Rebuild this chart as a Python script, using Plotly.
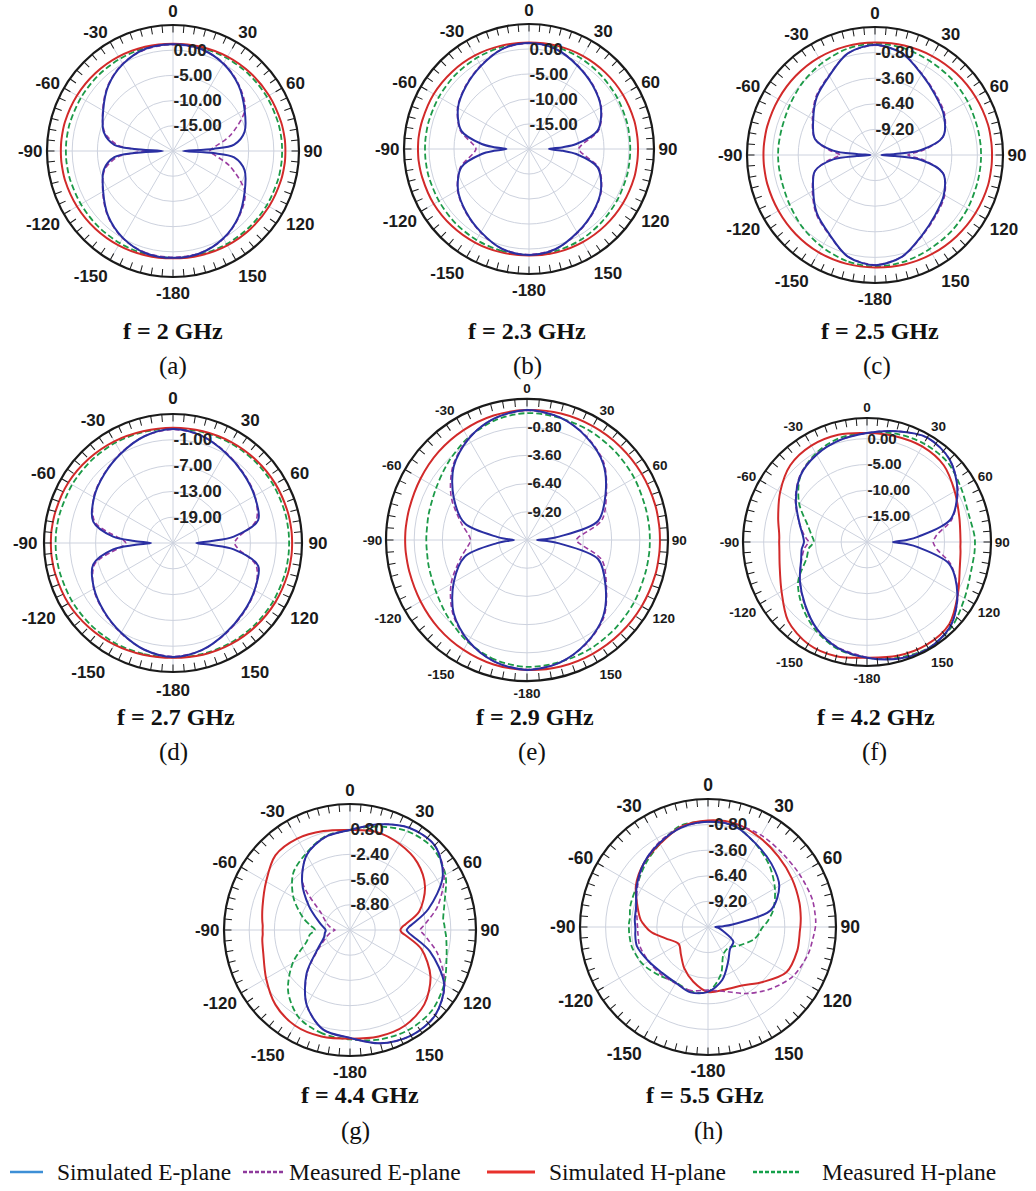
import plotly.graph_objects as go

W, H = 1036, 1191

# Sampling angles (degrees) shared by every pattern cut
THETA = [-180, -165, -150, -135, -120, -105, -96, -93, -90, -87, -84, -75, -60, -45, -30, -15,
         0, 15, 30, 45, 60, 75, 84, 87, 90, 93, 96, 105, 120, 135, 150, 165, 180]

# ---- (a) f = 2 GHz ----
a_sim_e = [1.2, 1.0, -0.1, -1.8, -4.0, -5.8, -8.3, -12.3, -18.0, -12.3, -8.3, -5.8, -4.0, -1.8, -0.1, 1.0,
           1.2, 1.0, 0.0, -1.6, -3.6, -5.3, -7.8, -12.0, -18.0, -12.0, -7.8, -5.3, -3.6, -1.6, 0.0, 1.0, 1.2]
a_meas_e = [1.1, 0.9, 0.0, -1.7, -3.9, -6.0, -9.0, -12.0, -15.0, -12.0, -9.0, -6.0, -3.9, -1.7, 0.0, 0.9,
            1.1, 0.9, 0.1, -1.5, -3.5, -8.3, -11.6, -12.3, -12.7, -12.3, -11.6, -8.3, -3.5, -1.5, 0.1, 0.9, 1.1]
a_sim_h = [1.3, 1.4, 1.6, 1.8, 2.0, 2.2, 2.25, 2.25, 2.25, 2.25, 2.25, 2.2, 2.0, 1.8, 1.6, 1.4,
           1.3, 1.4, 1.6, 1.8, 2.0, 2.2, 2.3, 2.3, 2.3, 2.3, 2.3, 2.2, 2.0, 1.8, 1.6, 1.4, 1.3]
a_meas_h = [1.2, 1.2, 1.1, 1.1, 1.1, 1.2, 1.25, 1.25, 1.25, 1.25, 1.25, 1.2, 1.1, 1.1, 1.1, 1.2,
            1.2, 1.25, 1.3, 1.4, 1.5, 1.6, 1.65, 1.65, 1.65, 1.65, 1.65, 1.6, 1.5, 1.4, 1.3, 1.25, 1.2]

# ---- (b) f = 2.3 GHz ----
b_sim_e = [1.2, 0.7, -0.8, -2.2, -3.6, -6.0, -10.5, -13.0, -15.5, -13.0, -10.5, -6.0, -3.6, -2.2, -0.8, 0.7,
           1.2, 0.7, -0.7, -2.0, -3.4, -5.8, -10.5, -13.2, -16.0, -13.2, -10.5, -5.8, -3.4, -2.0, -0.7, 0.7, 1.2]
b_meas_e = [1.1, 0.7, -0.7, -2.1, -3.5, -5.8, -8.5, -9.1, -9.4, -9.1, -8.5, -5.8, -3.5, -2.1, -0.7, 0.7,
            1.1, 0.7, -0.6, -1.9, -3.3, -5.6, -9.0, -9.7, -10.1, -9.7, -9.0, -5.6, -3.3, -1.9, -0.6, 0.7, 1.1]
b_sim_h = [1.3, 1.4, 1.6, 1.8, 2.0, 2.1, 2.2, 2.2, 2.2, 2.2, 2.2, 2.1, 2.0, 1.8, 1.6, 1.4,
           1.3, 1.4, 1.5, 1.6, 1.7, 1.8, 1.8, 1.8, 1.8, 1.8, 1.8, 1.8, 1.7, 1.6, 1.5, 1.4, 1.3]
b_meas_h = [1.2, 1.1, 1.0, 0.9, 0.8, 0.8, 0.8, 0.8, 0.8, 0.8, 0.8, 0.8, 0.8, 0.9, 1.0, 1.1,
            1.2, 1.1, 0.9, 0.6, 0.4, 0.3, 0.25, 0.25, 0.25, 0.25, 0.25, 0.3, 0.4, 0.6, 0.9, 1.1, 1.2]

# ---- (c) f = 2.5 GHz ----
c_sim_e = [0.05, -0.5, -2.0, -3.0, -4.2, -5.2, -7.4, -10.0, -11.5, -10.0, -7.4, -5.2, -4.2, -3.0, -2.0, -0.5,
           0.05, -0.5, -1.8, -2.7, -3.3, -4.3, -7.0, -9.8, -11.3, -9.8, -7.0, -4.3, -3.3, -2.7, -1.8, -0.5, 0.05]
c_meas_e = [0.0, -0.5, -1.95, -2.9, -4.1, -5.2, -7.0, -7.8, -8.2, -7.8, -7.0, -5.2, -4.1, -2.9, -1.95, -0.5,
            0.0, -0.5, -1.75, -2.6, -3.2, -4.3, -6.6, -7.8, -8.4, -7.8, -6.6, -4.3, -3.2, -2.6, -1.75, -0.5, 0.0]
c_sim_h = [0.3, 0.3, 0.3, 0.25, 0.2, 0.2, 0.2, 0.2, 0.2, 0.2, 0.2, 0.2, 0.2, 0.25, 0.3, 0.3,
           0.3, 0.4, 0.5, 0.6, 0.7, 0.8, 0.8, 0.8, 0.8, 0.8, 0.8, 0.8, 0.7, 0.6, 0.5, 0.4, 0.3]
c_meas_h = [0.2, 0.0, -0.4, -0.8, -1.2, -1.4, -1.4, -1.4, -1.4, -1.4, -1.4, -1.4, -1.2, -0.8, -0.4, 0.0,
            0.2, 0.1, -0.1, -0.2, -0.3, -0.4, -0.4, -0.4, -0.4, -0.4, -0.4, -0.4, -0.3, -0.2, -0.1, 0.1, 0.2]

# ---- (d) f = 2.7 GHz ----
d_sim_e = [1.5, 0.7, -0.9, -2.4, -3.8, -5.8, -11.0, -16.0, -19.9, -16.0, -11.0, -5.8, -3.8, -2.4, -0.9, 0.7,
           1.5, 0.8, -0.7, -2.0, -3.1, -4.5, -10.8, -16.0, -19.6, -16.0, -10.8, -4.5, -3.1, -2.0, -0.7, 0.8, 1.5]
d_meas_e = [1.4, 0.7, -0.8, -2.3, -3.7, -6.2, -12.0, -13.5, -14.0, -13.5, -12.0, -6.2, -3.7, -2.3, -0.8, 0.7,
            1.4, 0.8, -0.6, -1.9, -3.0, -5.0, -9.5, -10.3, -10.7, -10.3, -9.5, -5.0, -3.0, -1.9, -0.6, 0.8, 1.4]
d_sim_h = [1.7, 1.9, 2.3, 2.7, 3.1, 3.3, 3.4, 3.4, 3.4, 3.4, 3.4, 3.3, 3.1, 2.7, 2.3, 1.9,
           1.8, 1.9, 2.1, 2.3, 2.5, 2.65, 2.7, 2.7, 2.7, 2.7, 2.7, 2.65, 2.5, 2.3, 2.1, 1.9, 1.7]
d_meas_h = [1.6, 1.7, 1.9, 2.0, 2.1, 2.2, 2.3, 2.3, 2.3, 2.3, 2.3, 2.2, 2.1, 2.0, 1.9, 1.7,
            1.6, 1.7, 1.8, 1.9, 1.95, 2.0, 2.0, 2.0, 2.0, 2.0, 2.0, 2.0, 1.95, 1.9, 1.8, 1.7, 1.6]

# ---- (e) f = 2.9 GHz ----
e_sim_e = [0.9, 0.5, -0.4, -1.7, -3.6, -5.6, -9.0, -10.0, -10.7, -10.0, -9.0, -5.6, -3.6, -1.7, -0.4, 0.5,
           0.9, 0.6, -0.2, -1.3, -3.0, -4.7, -8.8, -10.0, -11.0, -10.0, -8.8, -4.7, -3.0, -1.3, -0.2, 0.6, 0.9]
e_meas_e = [0.85, 0.5, -0.35, -1.6, -3.3, -5.2, -6.1, -6.3, -6.4, -6.3, -6.1, -5.2, -3.3, -1.6, -0.35, 0.5,
            0.85, 0.6, -0.15, -1.2, -2.9, -4.3, -6.4, -6.9, -7.1, -6.9, -6.4, -4.3, -2.9, -1.2, -0.15, 0.6, 0.85]
e_sim_h = [0.9, 0.8, 0.6, 0.4, 0.2, 0.1, 0.1, 0.1, 0.1, 0.1, 0.1, 0.1, 0.2, 0.4, 0.6, 0.8,
           0.9, 1.0, 1.05, 1.1, 1.15, 1.2, 1.2, 1.2, 1.2, 1.2, 1.2, 1.2, 1.15, 1.1, 1.05, 1.0, 0.9]
e_meas_h = [0.6, 0.3, -0.3, -1.0, -1.6, -1.9, -2.0, -2.0, -2.0, -2.0, -2.0, -1.9, -1.6, -1.0, -0.3, 0.3,
            0.6, 0.55, 0.5, 0.4, 0.3, 0.2, 0.2, 0.2, 0.2, 0.2, 0.2, 0.2, 0.3, 0.4, 0.5, 0.55, 0.6]

# ---- (f) f = 4.2 GHz ----
f_sim_e = [2.4, 1.3, -0.6, -3.0, -5.0, -6.8, -7.3, -7.6, -7.8, -7.7, -7.5, -6.5, -4.1, -1.8, -0.5, 0.4,
           1.1, 2.2, 3.35, 2.6, 0.2, -3.3, -10.0, -12.3, -15.0, -12.3, -10.0, -3.5, 0.2, 2.9, 3.8, 3.4, 2.4]
f_meas_e = [2.3, 1.2, -0.5, -2.9, -5.0, -6.9, -7.8, -8.3, -8.7, -8.3, -7.8, -6.5, -4.0, -1.7, -0.4, 0.4,
            1.1, 2.2, 3.3, 2.6, 0.3, -3.0, -6.4, -6.9, -7.2, -6.9, -6.4, -3.2, 0.3, 2.9, 3.8, 3.4, 2.4]
f_sim_h = [2.4, 2.9, 2.8, 1.6, -0.9, -2.5, -2.95, -3.0, -3.0, -3.0, -2.9, -2.2, -0.6, 1.0, 1.55, 1.5,
           1.1, 1.2, 1.35, 1.0, -0.4, -1.5, -1.85, -1.9, -1.9, -1.9, -1.8, -1.4, 0.3, 2.5, 3.0, 2.8, 2.4]
f_meas_h = [2.4, 1.5, -0.2, -2.3, -4.6, -7.9, -8.7, -9.3, -9.7, -9.6, -9.3, -8.2, -4.8, -1.8, -0.2, 0.8,
            1.1, 1.7, 2.0, 1.95, 1.0, 0.4, 0.7, 0.85, 0.9, 0.9, 0.9, 0.9, 1.8, 3.2, 3.7, 3.2, 2.4]

# ---- (g) f = 4.4 GHz ----
g_sim_e = [1.7, 1.1, -1.0, -4.2, -7.3, -8.6, -8.8, -8.9, -8.9, -8.8, -8.6, -7.9, -6.0, -3.4, -1.0, 0.2,
           0.7, 1.9, 3.0, 3.2, 1.6, -1.7, -3.9, -4.5, -4.8, -4.5, -3.9, -1.5, 1.8, 3.3, 3.5, 2.9, 1.7]
g_meas_e = [1.7, 1.1, -1.0, -4.3, -7.5, -9.0, -9.6, -9.9, -10.1, -9.9, -9.6, -9.0, -7.8, -3.5, -1.0, 0.2,
            0.7, 1.9, 3.0, 3.2, 1.8, -0.5, -2.2, -2.7, -3.1, -2.7, -2.2, -0.5, 1.9, 3.3, 3.5, 2.9, 1.7]
g_sim_h = [1.8, 2.0, 2.0, 1.4, 0.3, -0.6, -0.8, -0.9, -0.9, -0.9, -0.8, -0.5, 0.3, 1.4, 1.4, 1.0,
           0.7, 0.9, 0.6, 0.1, -1.0, -2.9, -4.9, -5.4, -5.6, -5.4, -4.8, -2.6, -0.2, 1.35, 2.0, 2.0, 1.8]
g_meas_h = [1.9, 1.6, 0.9, -0.9, -3.6, -6.3, -6.9, -7.3, -7.55, -7.4, -7.0, -5.8, -3.7, -1.8, -0.8, 0.3,
            0.7, 1.6, 2.5, 2.8, 2.0, 0.4, -0.1, 0.0, 0.06, 0.2, 0.3, 0.7, 1.8, 2.6, 2.7, 2.4, 1.9]

# ---- (h) f = 5.5 GHz ----
h_sim_e = [-4.9, -4.6, -4.95, -4.9, -4.5, -3.95, -4.0, -4.05, -4.05, -4.0, -3.95, -3.85, -3.0, -2.1, -1.4, -0.75,
           -0.5, -0.6, -1.5, -2.2, -3.0, -4.9, -9.3, -10.3, -11.2, -11.0, -10.8, -10.3, -8.8, -8.6, -7.6, -6.0, -4.9]
h_meas_e = [-5.1, -4.8, -4.9, -4.7, -4.5, -4.25, -4.3, -4.3, -4.3, -4.25, -4.2, -3.9, -3.1, -2.1, -1.3, -0.7,
            -0.5, -0.4, -0.4, -0.55, -0.45, -0.2, -0.2, -0.2, -0.25, -0.35, -0.45, -0.65, -1.25, -2.4, -3.6, -4.7, -5.1]
h_sim_h = [-4.9, -5.8, -6.8, -7.8, -8.3, -7.2, -5.9, -5.5, -5.2, -4.9, -4.6, -4.05, -2.9, -2.1, -1.5, -0.65,
           -0.35, -0.3, -0.7, -1.1, -1.4, -1.65, -1.8, -1.85, -1.9, -1.95, -1.95, -1.9, -2.1, -3.5, -4.6, -4.9, -4.9]
h_meas_h = [-4.9, -4.7, -5.0, -4.5, -3.8, -3.4, -3.35, -3.35, -3.35, -3.35, -3.4, -3.2, -3.0, -2.3, -1.5, -0.5,
            -0.5, -0.6, -1.55, -2.5, -3.55, -4.6, -5.4, -5.7, -6.0, -6.2, -6.3, -6.8, -8.0, -8.8, -8.6, -6.6, -4.9]

# Radial (dB) tick values printed on each panel
a_rticks = [0.0, -5.0, -10.0, -15.0]
b_rticks = [0.0, -5.0, -10.0, -15.0]
c_rticks = [-0.8, -3.6, -6.4, -9.2]
d_rticks = [-1.0, -7.0, -13.0, -19.0]
e_rticks = [-0.8, -3.6, -6.4, -9.2]
f_rticks = [0.0, -5.0, -10.0, -15.0]
g_rticks = [0.8, -2.4, -5.6, -8.8]
h_rticks = [-0.8, -3.6, -6.4, -9.2]

FREQS = ["f = 2 GHz", "f = 2.3 GHz", "f = 2.5 GHz", "f = 2.7 GHz",
         "f = 2.9 GHz", "f = 4.2 GHz", "f = 4.4 GHz", "f = 5.5 GHz"]
LETTERS = ["(a)", "(b)", "(c)", "(d)", "(e)", "(f)", "(g)", "(h)"]
SERIES_NAMES = ["Simulated E-plane", "Measured E-plane", "Simulated H-plane", "Measured H-plane"]

# Angular tick labels (every 30 degrees, clockwise from the top)
ANG_VALS = list(range(0, 360, 30))
ANG_TEXT = ["0", "30", "60", "90", "120", "150", "-180", "-150", "-120", "-90", "-60", "-30"]

PANEL_DATA = [
    (a_sim_e, a_meas_e, a_sim_h, a_meas_h, a_rticks),
    (b_sim_e, b_meas_e, b_sim_h, b_meas_h, b_rticks),
    (c_sim_e, c_meas_e, c_sim_h, c_meas_h, c_rticks),
    (d_sim_e, d_meas_e, d_sim_h, d_meas_h, d_rticks),
    (e_sim_e, e_meas_e, e_sim_h, e_meas_h, e_rticks),
    (f_sim_e, f_meas_e, f_sim_h, f_meas_h, f_rticks),
    (g_sim_e, g_meas_e, g_sim_h, g_meas_h, g_rticks),
    (h_sim_e, h_meas_e, h_sim_h, h_meas_h, h_rticks),
]
for panel in PANEL_DATA:
    for series in panel[:4]:
        assert len(series) == len(THETA)

# ---- layout geometry (pixels): centre x, centre y, outer radius ----
GEOM = [(173, 151, 126), (529, 149, 125), (875, 155, 128),
        (173, 543, 129), (527, 540, 141), (867, 542, 124),
        (350, 930, 126), (708, 927, 128)]
# radial range [centre, rim] in dB
RRANGE = [(-20, 5), (-20, 5), (-12, 2), (-25, 5), (-12, 2), (-20, 4), (-12, 4), (-12, 2)]
ANG_FONT = [17, 17, 17, 17, 13.5, 13.5, 17, 17.5]
ANG_PAD = [0, 0, 0, 2, 0, 0, 0, 0]
RAD_FONT = [17, 17, 17, 17, 15, 15, 17, 17]
TITLE_X = [173, 527, 880, 176, 535, 876, 360, 705]
TITLE_Y = [331, 331, 331, 717, 717, 717, 1095, 1095]
LETTER_X = [173, 527, 877, 173, 532, 874, 355, 708]
LETTER_Y = [366, 366, 366, 752, 752, 752, 1131, 1131]

# draw order: measured H, simulated H, measured E, simulated E (last on top)
DRAW_ORDER = [3, 2, 1, 0]
PLOT_STYLES = [
    dict(color="#2a2fa2", width=2.0, dash="solid"),
    dict(color="#9a3ca0", width=1.6, dash="5px,3px"),
    dict(color="#d22a2a", width=2.0, dash="solid"),
    dict(color="#1c9a48", width=1.8, dash="6px,3px"),
]
LEGEND_STYLES = [
    dict(color="#3d8fd6", width=2.5, dash="solid"),
    dict(color="#8e3a9c", width=2.5, dash="4px,2px"),
    dict(color="#e8312c", width=3.0, dash="solid"),
    dict(color="#15a04a", width=2.5, dash="4px,2px"),
]
GRID = "#cdd2de"
SANS = "Liberation Sans, Arial, sans-serif"
SERIF = "Liberation Serif, Times New Roman, serif"


def domain(cx, cy, r):
    return dict(x=[(cx - r) / W, (cx + r) / W], y=[1 - (cy + r) / H, 1 - (cy - r) / H])


fig = go.Figure()
layout = {}

for i, panel in enumerate(PANEL_DATA):
    name = "polar" if i == 0 else f"polar{i + 1}"
    tick_name = f"polar{i + 9}"
    for k in DRAW_ORDER:
        fig.add_trace(go.Scatterpolar(
            r=panel[k], theta=THETA, mode="lines", subplot=name,
            line=dict(color=PLOT_STYLES[k]["color"], width=PLOT_STYLES[k]["width"],
                      dash=PLOT_STYLES[k]["dash"], shape="spline", smoothing=0.9),
            name=SERIES_NAMES[k], showlegend=False, hoverinfo="skip"))
    # empty trace so the minor-tick ring subplot is rendered
    fig.add_trace(go.Scatterpolar(r=[None], theta=[None], subplot=tick_name,
                                  showlegend=False, hoverinfo="skip"))

    cx, cy, rad = GEOM[i]
    rt = panel[4]
    pad = ANG_PAD[i]
    layout[name] = dict(
        domain=domain(cx, cy, rad),
        bgcolor="white",
        angularaxis=dict(
            rotation=90, direction="clockwise", thetaunit="degrees",
            tickmode="array", tickvals=ANG_VALS, ticktext=ANG_TEXT,
            showline=True, linecolor="#1a1a1a", linewidth=2.2,
            showgrid=True, gridcolor=GRID, gridwidth=1,
            # invisible outside ticks only push the labels away from the rim
            ticks="outside" if pad else "", ticklen=max(pad, 1), tickcolor="rgba(0,0,0,0)",
            tickfont=dict(family=SANS, size=ANG_FONT[i], color="#1a1a1a", weight="bold"),
        ),
        radialaxis=dict(
            range=list(RRANGE[i]), tickmode="array", tickvals=rt,
            ticktext=[f"{v:.2f}" for v in rt], angle=90, side="clockwise",
            tickangle=90, showline=False, ticks="", gridcolor=GRID, gridwidth=1,
            tickfont=dict(family=SANS, size=RAD_FONT[i], color="#222222", weight="bold"),
        ),
    )
    layout[tick_name] = dict(
        domain=domain(cx, cy, rad),
        bgcolor="rgba(0,0,0,0)",
        angularaxis=dict(
            rotation=90, direction="clockwise", tickmode="array",
            tickvals=list(range(0, 360, 5)), showticklabels=False,
            ticks="inside", ticklen=7, tickwidth=1.3, tickcolor="#1a1a1a",
            showline=False, showgrid=False,
        ),
        radialaxis=dict(visible=False, range=[0, 1]),
    )

annotations = []
for i in range(8):
    annotations.append(dict(
        x=TITLE_X[i] / W, y=1 - TITLE_Y[i] / H, xref="paper", yref="paper",
        text=f"<b>{FREQS[i]}</b>", showarrow=False, xanchor="center", yanchor="middle",
        font=dict(family=SERIF, size=24, color="#111111")))
    annotations.append(dict(
        x=LETTER_X[i] / W, y=1 - LETTER_Y[i] / H, xref="paper", yref="paper",
        text=LETTERS[i], showarrow=False, xanchor="center", yanchor="middle",
        font=dict(family=SERIF, size=25, color="#111111")))

# Legend row drawn along the bottom edge
LEG_Y = 1172
LEG_LINE_X = [(10, 43), (243, 285), (487, 535), (753, 800)]
LEG_TEXT_X = [55, 287, 547, 820]
shapes = []
for k in range(4):
    x0, x1 = LEG_LINE_X[k]
    shapes.append(dict(type="line", xref="paper", yref="paper",
                       x0=x0 / W, x1=x1 / W, y0=1 - LEG_Y / H, y1=1 - LEG_Y / H,
                       line=LEGEND_STYLES[k]))
    annotations.append(dict(
        x=LEG_TEXT_X[k] / W, y=1 - LEG_Y / H, xref="paper", yref="paper",
        text=SERIES_NAMES[k], showarrow=False, xanchor="left", yanchor="middle",
        font=dict(family=SERIF, size=23.5, color="#111111")))

fig.update_layout(
    width=W, height=H, margin=dict(l=0, r=0, t=0, b=0),
    paper_bgcolor="white", plot_bgcolor="white",
    showlegend=False, hovermode=False,
    annotations=annotations, shapes=shapes,
    **layout,
)

fig.write_html("out.html", config=dict(displayModeBar=False))
